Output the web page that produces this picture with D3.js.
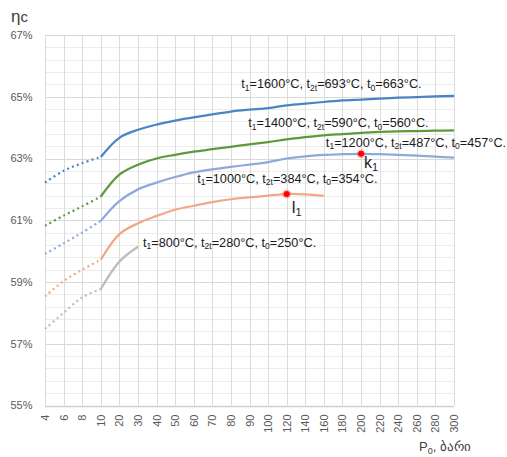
<!DOCTYPE html>
<html><head><meta charset="utf-8">
<script src="https://cdn.jsdelivr.net/npm/d3@7"></script>
<style>
html,body{margin:0;padding:0;background:#fff;}
svg{display:block;font-family:"Liberation Sans",Arial,sans-serif;}
</style></head>
<body><svg id="c" width="507" height="457"></svg>
<script>
const categories = ["4","6","8","10","20","30","40","50","60","70","80","90","100","120","140","160","180","200","220","240","260","280","300"];
const yTicks = [55,57,59,61,63,65,67];
const s1600 = [62.22,62.6,62.85,63.05,63.67,63.93,64.1,64.23,64.33,64.43,64.52,64.58,64.63,64.72,64.78,64.83,64.88,64.91,64.94,64.97,64.99,65.01,65.03];
const s1400 = [60.82,61.15,61.45,61.77,62.48,62.8,63.0,63.12,63.22,63.3,63.38,63.46,63.53,63.62,63.69,63.75,63.79,63.83,63.86,63.88,63.89,63.9,63.91];
const s1200 = [59.91,60.25,60.6,60.98,61.62,62.0,62.22,62.4,62.55,62.65,62.73,62.8,62.88,63.0,63.07,63.12,63.14,63.15,63.14,63.12,63.09,63.06,63.03];
const s1000 = [58.53,59.03,59.4,59.72,60.55,60.9,61.14,61.34,61.47,61.59,61.68,61.74,61.8,61.85,61.84,61.79,null,null,null,null,null,null,null];
const s800  = [57.48,58.0,58.5,58.77,59.66,60.14,null,null,null,null,null,null,null,null,null,null,null,null,null,null,null,null,null];
const seriesNames = ["1600","1400","1200","1000","800"];
const seriesColors = ["#4a84c4","#5e9a3c","#8eaadb","#f4a785","#bdbdbd"];
const labels = [
  {t1:"1600", t2:"693", t0:"663"},
  {t1:"1400", t2:"590", t0:"560"},
  {t1:"1200", t2:"487", t0:"457"},
  {t1:"1000", t2:"384", t0:"354"},
  {t1:"800",  t2:"280", t0:"250"}
];
const markers = [{name:"k", series:2, cat:"200", dx:3, dy:14, fs:16},{name:"l", series:3, cat:"120", dx:5, dy:19, fs:17}];

const allSeries = [s1600,s1400,s1200,s1000,s800];
const svg = d3.select("#c");
const L=45, R=454, T=35, B=405.5;
const x = d3.scalePoint().domain(categories).range([L,R]);
const y = d3.scaleLinear().domain([55,67]).range([B,T]);

// minor horizontal grid
const minor = d3.range(55,67.001,0.4);
svg.append("g").selectAll("line").data(minor).join("line")
  .attr("x1",L).attr("x2",R).attr("y1",d=>Math.round(y(d))+0.5).attr("y2",d=>Math.round(y(d))+0.5)
  .attr("stroke","#ececec").attr("stroke-width",1);
// vertical grid
svg.append("g").selectAll("line").data(categories).join("line")
  .attr("x1",d=>Math.round(x(d))+0.5).attr("x2",d=>Math.round(x(d))+0.5).attr("y1",T).attr("y2",B)
  .attr("stroke","#dcdcdc").attr("stroke-width",1);
// major horizontal grid
svg.append("g").selectAll("line").data(yTicks).join("line")
  .attr("x1",L).attr("x2",R).attr("y1",d=>Math.round(y(d))+0.5).attr("y2",d=>Math.round(y(d))+0.5)
  .attr("stroke","#d9d9d9").attr("stroke-width",1);
svg.append("line").attr("x1",L).attr("x2",R).attr("y1",Math.round(B)+0.5).attr("y2",Math.round(B)+0.5)
  .attr("stroke","#d0d0d0").attr("stroke-width",1.5);

// y tick labels
svg.append("g").selectAll("text").data(yTicks).join("text")
  .attr("x",32.5).attr("y",d=>y(d)).attr("dy","0.35em").attr("text-anchor","end")
  .attr("font-size",11).attr("fill","#595959").text(d=>d+"%");
// x tick labels
svg.append("g").selectAll("text").data(categories).join("text")
  .attr("transform",d=>`translate(${x(d)+4},${B+9}) rotate(-90)`)
  .attr("text-anchor","end").attr("font-size",11).attr("fill","#595959").text(d=>d);

// titles
const yt = svg.append("text").attr("x",11).attr("y",22).attr("font-size",17).attr("fill","#404040");
yt.append("tspan").text("η");
yt.append("tspan").attr("font-size",15).text("c");
const xt = svg.append("text").attr("x",419).attr("y",451).attr("font-size",13).attr("fill","#404040");
xt.append("tspan").text("P");
xt.append("tspan").attr("font-size",9).attr("dy",2.5).text("0");
xt.append("tspan").attr("dy",-2.5).text(", ბარი");

// lines
const line = d3.line().defined(d=>d.v!=null).x(d=>x(d.c)).y(d=>y(d.v)).curve(d3.curveCatmullRom.alpha(0.5));
allSeries.forEach((vals,i)=>{
  const pts = categories.map((c,j)=>({c, v: vals[j]})).filter(d=>d.v!=null);
  const dotted = pts.slice(0,4);
  const solid = pts.slice(3);
  svg.append("path").datum(dotted).attr("d",line).attr("fill","none")
    .attr("stroke",seriesColors[i]).attr("stroke-width",2.2)
    .attr("stroke-dasharray","2,3.2");
  svg.append("path").datum(solid).attr("d",line).attr("fill","none")
    .attr("stroke",seriesColors[i]).attr("stroke-width",2.25).attr("stroke-linejoin","round");
});

// annotations
function ann(lb, px, py){
  const t = svg.append("text").attr("x",px).attr("y",py).attr("font-size",12.7).attr("fill","#1a1a1a");
  t.append("tspan").text("t");
  t.append("tspan").attr("font-size",8.5).attr("dy",2.5).text("1");
  t.append("tspan").attr("dy",-2.5).text("="+lb.t1+"°C, t");
  t.append("tspan").attr("font-size",8.5).attr("dy",2.5).text("2t");
  t.append("tspan").attr("dy",-2.5).text("="+lb.t2+"°C, t");
  t.append("tspan").attr("font-size",8.5).attr("dy",2.5).text("0");
  t.append("tspan").attr("dy",-2.5).text("="+lb.t0+"°C.");
}
ann(labels[0], x("70")+29, y(s1600[9])-26);
ann(labels[1], x("70")+36, y(s1400[9])-22);
ann(labels[2], x("160")+2, y(s1200[15])-8);
ann(labels[3], x("50")+22, y(s1000[7])-27);
ann(labels[4], x("30")+5, y(s800[5])+0);

// markers
markers.forEach(m=>{
  const cx = x(m.cat), cy = y(allSeries[m.series][categories.indexOf(m.cat)]);
  svg.append("circle").attr("cx",cx).attr("cy",cy).attr("r",4.5).attr("fill","#ff0000").attr("opacity",0.25);
  svg.append("circle").attr("cx",cx).attr("cy",cy).attr("r",3).attr("fill","#ff0000");
  const t = svg.append("text").attr("x",cx+m.dx).attr("y",cy+m.dy).attr("font-size",m.fs).attr("fill","#262626");
  t.append("tspan").text(m.name);
  t.append("tspan").attr("font-size",11).attr("dy",3).text("1");
});
</script></body></html>
